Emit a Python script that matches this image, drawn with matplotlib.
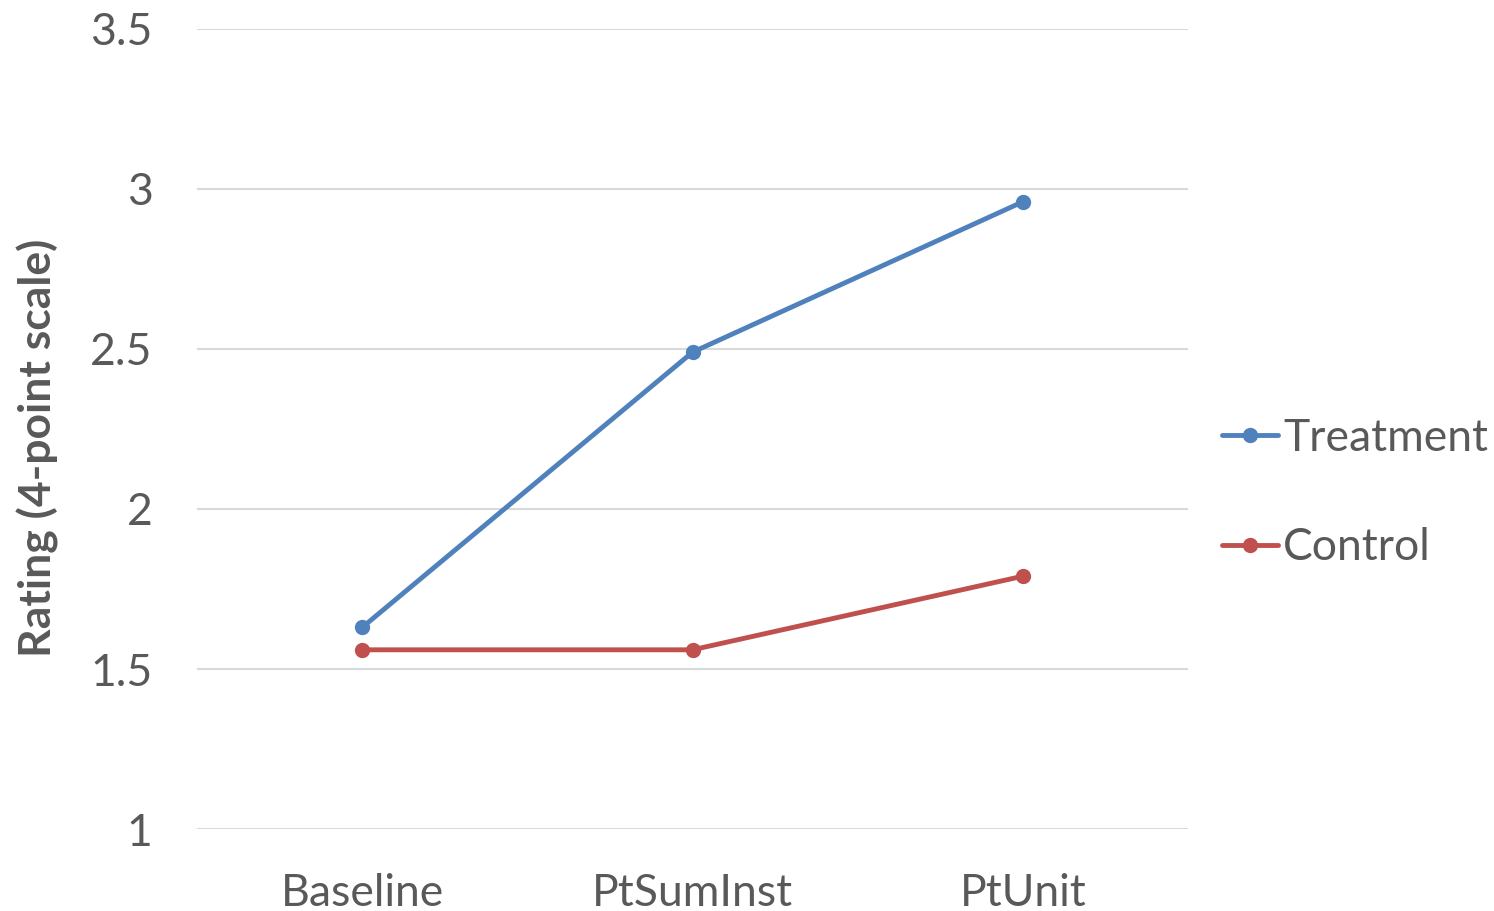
import matplotlib
matplotlib.use("Agg")
import matplotlib.pyplot as plt

categories = ["Baseline", "PtSumInst", "PtUnit"]
treatment = [1.63, 2.49, 2.96]
control = [1.56, 1.56, 1.79]
yticks = [1, 1.5, 2, 2.5, 3, 3.5]
ytick_labels = ["1", "1.5", "2", "2.5", "3", "3.5"]

plt.rcParams["font.family"] = ["Lato", "DejaVu Sans"]
text_color = "#595959"

fig = plt.figure(figsize=(14.94, 9.11), dpi=100)
ax = fig.add_axes([0.1319, 0.09, 0.6633, 0.8782])

x = range(len(categories))
ax.plot(x, treatment, color="#4F81BD", lw=3.5, marker="o", ms=10,
        label="Treatment", solid_capstyle="round")
ax.plot(x, control, color="#C0504D", lw=3.5, marker="o", ms=10,
        label="Control", solid_capstyle="round")

ax.set_xlim(-0.5, 2.5)
ax.set_ylim(1, 3.5)
ax.set_yticks(yticks)
ax.set_yticklabels(ytick_labels)
ax.set_xticks(list(x))
ax.set_xticklabels(categories)
ax.tick_params(axis="both", length=0, labelsize=32, colors=text_color)
ax.tick_params(axis="y", pad=32)
ax.tick_params(axis="x", pad=32)

ax.grid(axis="y", color="#D9D9D9", lw=1.5)
ax.set_axisbelow(True)
for s in ax.spines.values():
    s.set_visible(False)

ax.set_ylabel("Rating (4-point scale)", fontsize=32, fontweight="bold",
              color=text_color)
ax.yaxis.set_label_coords(-0.161, 0.476)
ax.yaxis.label.set_va("center")

leg = ax.legend(loc="center left", bbox_to_anchor=(1.034, 0.42), frameon=False,
                fontsize=32, labelcolor=text_color, handlelength=1.26,
                handletextpad=0.12, labelspacing=1.55, borderpad=0,
                borderaxespad=0)

fig.savefig("out.png", dpi=100)
